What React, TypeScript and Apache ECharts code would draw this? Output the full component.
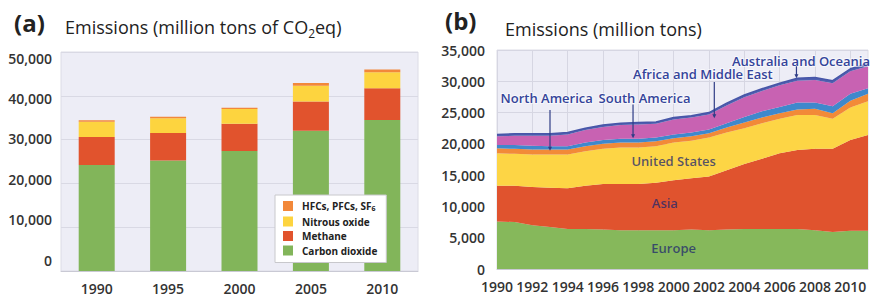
import React, { useEffect, useRef } from "react";
import * as echarts from "echarts";

// ---------- Panel (a): emissions by gas (million tons CO2eq) ----------
const gasYears = ["1990", "1995", "2000", "2005", "2010"];
const carbonDioxide = [24200, 25200, 27400, 32000, 34500];
const methane = [6400, 6300, 6200, 6700, 7200];
const nitrousOxide = [3500, 3400, 3400, 3600, 3700];
const fluorinated = [300, 300, 300, 600, 600];
const gasTicks = [0, 10000, 20000, 30000, 40000, 50000];

// ---------- Panel (b): emissions by region (million tons) ----------
const regionYears = ["1990", "1991", "1992", "1993", "1994", "1995", "1996", "1997", "1998", "1999", "2000",
  "2001", "2002", "2003", "2004", "2005", "2006", "2007", "2008", "2009", "2010", "2011"];
const europe = [7600, 7500, 7000, 6700, 6400, 6400, 6300, 6200, 6200, 6200, 6200,
  6300, 6200, 6300, 6400, 6400, 6400, 6400, 6200, 5900, 6100, 6100];
const asia = [5700, 5800, 6100, 6300, 6500, 6900, 7300, 7400, 7400, 7600, 8000,
  8200, 8600, 9500, 10400, 11200, 12100, 12600, 13000, 13300, 14500, 15300];
const unitedStates = [5200, 5100, 5200, 5300, 5400, 5500, 5600, 5800, 5800, 5800, 6000,
  6000, 6200, 6000, 5700, 5700, 5500, 5600, 5400, 4800, 5200, 5400];
const northAmerica = [800, 800, 800, 800, 800, 800, 800, 800, 800, 800, 700,
  700, 700, 800, 900, 900, 900, 900, 1000, 900, 1100, 1200];
const southAmerica = [500, 600, 600, 500, 500, 600, 600, 600, 600, 600, 600,
  600, 600, 700, 900, 1000, 1000, 1100, 1000, 1100, 1100, 900];
const africaMiddleEast = [1400, 1500, 1600, 1700, 1900, 2000, 2100, 2200, 2300, 2200, 2400,
  2400, 2400, 2850, 3150, 3250, 3450, 3500, 3600, 3700, 3600, 3500];
const australiaOceania = [300, 300, 300, 300, 300, 300, 300, 300, 300, 300, 300,
  300, 300, 350, 350, 350, 350, 400, 400, 400, 400, 400];

// annotations in data coordinates of panel (b)
const inAreaLabels = [
  { text: "United States", year: 2000, value: 17300 },
  { text: "Asia", year: 1999.5, value: 10500 },
  { text: "Europe", year: 2000, value: 3400 },
];
const arrowLabels = [
  { text: "North America", textYear: 1990.2, textValue: 27300, year: 1993.0, from: 25400, to: 18900 },
  { text: "South America", textYear: 1995.75, textValue: 27300, year: 1997.7, from: 26300, to: 20900 },
  { text: "Africa and Middle East", textYear: 1997.7, textValue: 31200, year: 2002.3, from: 29900, to: 24100 },
  { text: "Australia and Oceania", textYear: 2003.3, textValue: 33200, year: 2006.95, from: 32400, to: 30500 },
];

const FONT = "'Open Sans', 'DejaVu Sans', sans-serif";
const NAVY = "#34449a";

export default function App() {
  const ref = useRef<HTMLDivElement>(null);

  useEffect(() => {
    if (!ref.current) return;
    const chart = echarts.init(ref.current, undefined, { renderer: "svg" });

    const area = (name: string, data: number[], color: string, lineColor?: string, lw = 0) => ({
      name,
      type: "line",
      stack: "regions",
      xAxisIndex: 1,
      yAxisIndex: 1,
      symbol: "none",
      smooth: false,
      data,
      lineStyle: { width: lw, color: lineColor || color },
      itemStyle: { color },
      areaStyle: { color, opacity: 1 },
      z: 2,
    });
    const bar = (name: string, data: number[], color: string) => ({
      name,
      type: "bar",
      stack: "gas",
      xAxisIndex: 0,
      yAxisIndex: 0,
      barWidth: 36,
      data,
      itemStyle: { color },
    });

    const axisText = { fontFamily: FONT, fontSize: 14, fontWeight: 600, color: "#333" };

    const option: any = {
      animation: false,
      textStyle: { fontFamily: FONT },
      grid: [
        { left: 61, right: 460, top: 52, bottom: 25, show: true, backgroundColor: "#ededf6", borderColor: "#dcdce6", borderWidth: 1 },
        { left: 497, right: 10, top: 50, bottom: 27, show: true, backgroundColor: "#ededf6", borderColor: "#dcdce6", borderWidth: 1 },
        { left: 60, width: 1, top: 58, bottom: 36, show: false },
      ],
      xAxis: [
        {
          type: "category", gridIndex: 0, data: gasYears,
          axisLine: { lineStyle: { color: "#c9c9d4" } }, axisTick: { show: false },
          axisLabel: { ...axisText, margin: 10 },
        },
        {
          type: "category", gridIndex: 1, data: regionYears, boundaryGap: false,
          axisLine: { lineStyle: { color: "#c9c9d4" } }, axisTick: { show: false },
          axisLabel: { ...axisText, margin: 10, interval: 1 },
          splitLine: { show: true, interval: 1, lineStyle: { color: "#d6d6e2", width: 1 } },
        },
        { type: "value", gridIndex: 2, show: false, min: 0, max: 1 },
      ],
      yAxis: [
        {
          type: "value", gridIndex: 0, min: 0, max: 50000, interval: 10000,
          axisLabel: { show: false }, axisLine: { show: false }, axisTick: { show: false },
          splitLine: { lineStyle: { color: "#d9d9e4" } },
        },
        {
          type: "value", gridIndex: 1, min: 0, max: 35000, interval: 5000,
          axisLabel: { ...axisText, margin: 12, formatter: (v: number) => v.toLocaleString("en-US") },
          axisLine: { show: false }, axisTick: { show: false },
          splitLine: { lineStyle: { color: "#d6d6e2" } },
        },
        {
          type: "value", gridIndex: 2, min: gasTicks[0], max: gasTicks[gasTicks.length - 1], interval: 10000,
          axisLabel: { ...axisText, margin: 8, formatter: (v: number) => v.toLocaleString("en-US") },
          axisLine: { show: false }, axisTick: { show: false }, splitLine: { show: false },
        },
      ],
      legend: {
        data: ["HFCs, PFCs, SF6", "Nitrous oxide", "Methane", "Carbon dioxide"],
        orient: "vertical",
        left: 275,
        top: 195,
        backgroundColor: "#ffffff",
        borderColor: "#c8c8cc",
        borderWidth: 1,
        borderRadius: 0,
        padding: [6, 9, 7, 8],
        itemWidth: 10,
        itemHeight: 10,
        itemGap: 4.5,
        icon: "rect",
        formatter: (name: string) =>
          name === "HFCs, PFCs, SF6" ? "{a|HFCs, PFCs, SF}{s|6}" : "{a|" + name + "}",
        textStyle: {
          fontFamily: FONT,
          padding: [0, 0, 0, 4],
          rich: {
            a: { fontFamily: FONT, fontSize: 10, fontWeight: "bold", color: "#222", lineHeight: 12 },
            s: { fontFamily: FONT, fontSize: 7, fontWeight: "bold", color: "#222", lineHeight: 12, verticalAlign: "bottom" },
          },
        },
      },
      series: [
        bar("Carbon dioxide", carbonDioxide, "#82b55a"),
        bar("Methane", methane, "#e1532d"),
        bar("Nitrous oxide", nitrousOxide, "#fdd43f"),
        bar("HFCs, PFCs, SF6", fluorinated, "#f2883a"),
        area("Europe", europe, "#86b85b"),
        area("Asia", asia, "#e0532e"),
        area("United States", unitedStates, "#fdd545"),
        area("North America", northAmerica, "#f28a38"),
        area("South America", southAmerica, "#3f88cc"),
        area("Africa and Middle East", africaMiddleEast, "#c862b2"),
        area("Australia and Oceania", australiaOceania, "#4f5fb0", "#4756a8", 1.5),
      ],
    };
    chart.setOption(option);

    const titles: any[] = [
      { type: "text", left: 14, top: 10, style: { text: "(a)", font: `bold 24px ${FONT}`, fill: "#222" } },
      {
        type: "text", left: 65, top: 18,
        style: {
          text: "{n|Emissions (million tons of CO}{s|2}{n|eq)}",
          rich: {
            n: { fontFamily: FONT, fontSize: 18, fill: "#222", lineHeight: 24 },
            s: { fontFamily: FONT, fontSize: 12, fill: "#222", lineHeight: 24, verticalAlign: "bottom" },
          },
        },
      },
      { type: "text", left: 445, top: 8, style: { text: "(b)", font: `bold 24px ${FONT}`, fill: "#222" } },
      {
        type: "text", left: 505, top: 20,
        style: { text: "Emissions (million tons)", font: `18px ${FONT}`, fill: "#222" },
      },
    ];

    const first = chart.convertToPixel({ gridIndex: 1 }, [regionYears[0], 0]) as number[];
    const last = chart.convertToPixel({ gridIndex: 1 }, [regionYears[regionYears.length - 1], 0]) as number[];
    const y0 = Number(regionYears[0]);
    const span = Number(regionYears[regionYears.length - 1]) - y0;
    const xPx = (year: number) => first[0] + ((year - y0) / span) * (last[0] - first[0]);
    const yPx = (v: number) => (chart.convertToPixel({ gridIndex: 1 }, [regionYears[0], v]) as number[])[1];

    const annots: any[] = [];
    inAreaLabels.forEach((l) => {
      annots.push({
        type: "text", x: xPx(l.year), y: yPx(l.value), z: 100,
        style: { text: l.text, font: `600 13px ${FONT}`, fill: "rgba(30,40,110,0.75)", align: "center", verticalAlign: "middle" },
      });
    });
    arrowLabels.forEach((l) => {
      const tx = xPx(l.textYear), ty = yPx(l.textValue);
      const ax = xPx(l.year), ay1 = yPx(l.from), ay2 = yPx(l.to);
      annots.push({
        type: "text", x: tx, y: ty, z: 100,
        style: {
          text: l.text, font: `600 13px ${FONT}`, fill: NAVY, align: "left", verticalAlign: "middle",
          stroke: "rgba(255,255,255,0.6)", lineWidth: 2,
        },
      });
      annots.push({
        type: "line", z: 100,
        shape: { x1: ax, y1: ay1, x2: ax, y2: ay2 - 2 },
        style: { stroke: "#2f3d86", lineWidth: 1.2 },
      });
      annots.push({
        type: "polygon", z: 100,
        shape: { points: [[ax - 2, ay2 - 4], [ax + 2, ay2 - 4], [ax, ay2]] },
        style: { fill: "#2f3d86" },
      });
    });
    chart.setOption({ graphic: [...titles, ...annots] });

    return () => chart.dispose();
  }, []);

  return (
    <div
      ref={ref}
      style={{ position: "fixed", left: 0, top: 0, width: 878, height: 296, background: "#ffffff" }}
    />
  );
}
